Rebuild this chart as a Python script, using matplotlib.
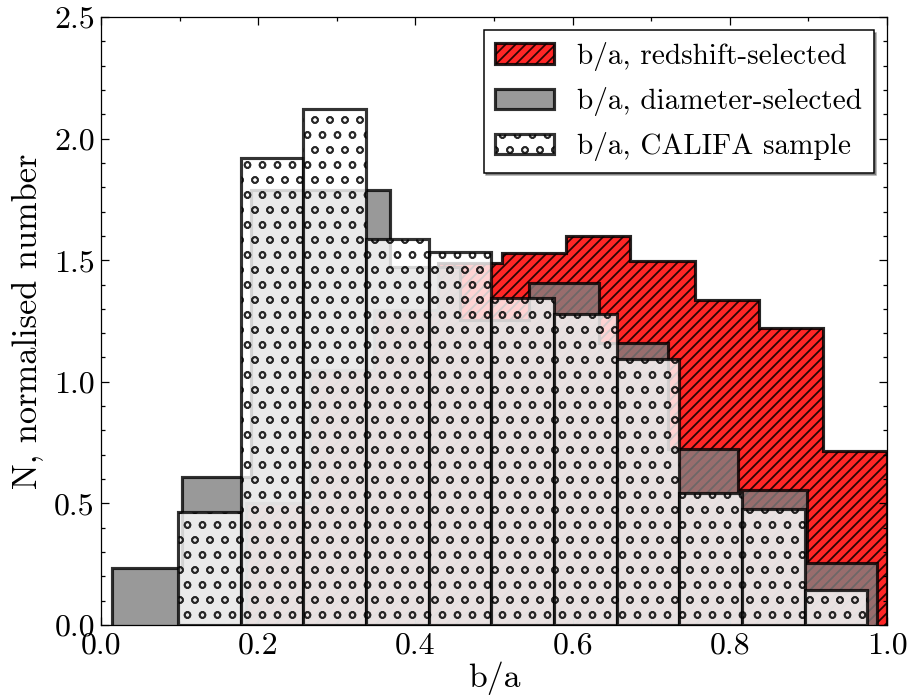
import numpy as np
import matplotlib
matplotlib.use("Agg")
import matplotlib.pyplot as plt
from matplotlib.ticker import MultipleLocator, FormatStrFormatter

# ---- histogram data (normalised counts per bin) ----
redshift_range = (0.184, 1.0)
redshift_counts = [0.502, 1.049, 1.295, 1.487, 1.528, 1.601, 1.498, 1.336, 1.220, 0.716]

diameter_range = (0.014, 0.987)
diameter_counts = [0.234, 0.609, 1.789, 1.789, 1.473, 1.254, 1.406, 1.160, 0.724, 0.555, 0.255]

califa_range = (0.098, 0.975)
califa_counts = [0.466, 1.919, 2.122, 1.586, 1.535, 1.343, 1.278, 1.092, 0.544, 0.476, 0.142]

labels = ["b/a, redshift-selected", "b/a, diameter-selected", "b/a, CALIFA sample"]

redshift_edges = np.linspace(*redshift_range, len(redshift_counts) + 1)
diameter_edges = np.linspace(*diameter_range, len(diameter_counts) + 1)
califa_edges = np.linspace(*califa_range, len(califa_counts) + 1)

plt.rcParams.update({
    "font.family": "serif",
    "font.serif": ["cmr10", "DejaVu Serif"],
    "axes.formatter.use_mathtext": True,
    "axes.unicode_minus": False,
    "hatch.linewidth": 1.4,
    "xtick.direction": "in",
    "ytick.direction": "in",
    "xtick.top": True,
    "ytick.right": True,
})

DPI = 90
fig = plt.figure(figsize=(907 / DPI, 695 / DPI), dpi=DPI)
ax = fig.add_axes([0.1114, 0.1007, 0.8666, 0.8748])

lw = 2.5
ax.stairs(redshift_counts, redshift_edges, fill=True, baseline=0,
          facecolor="red", edgecolor="black", hatch="///", alpha=0.85,
          linewidth=lw, label=labels[0], zorder=1)
ax.stairs(diameter_counts, diameter_edges, fill=True, baseline=0,
          facecolor="gray", edgecolor="black", alpha=0.8,
          linewidth=lw, label=labels[1], zorder=2)
ax.bar(califa_edges[:-1], califa_counts, width=np.diff(califa_edges),
       align="edge", facecolor="white", edgecolor="black", hatch="o",
       alpha=0.8, linewidth=lw, label=labels[2], zorder=3)

ax.set_xlim(0, 1)
ax.set_ylim(0, 2.5)
ax.xaxis.set_major_locator(MultipleLocator(0.2))
ax.xaxis.set_minor_locator(MultipleLocator(0.1))
ax.yaxis.set_major_locator(MultipleLocator(0.5))
ax.yaxis.set_minor_locator(MultipleLocator(0.1))
ax.xaxis.set_major_formatter(FormatStrFormatter("%.1f"))
ax.yaxis.set_major_formatter(FormatStrFormatter("%.1f"))
ax.tick_params(which="major", length=6.5, width=1.0, labelsize=25.5, pad=5)
ax.tick_params(which="minor", length=3.5, width=1.0)
ax.tick_params(which="both", top=True, right=True)
for s in ax.spines.values():
    s.set_linewidth(1.0)

ax.set_xlabel("b/a", fontsize=27, labelpad=2)
ax.set_ylabel("N, normalised number", fontsize=27.5, labelpad=8)

leg = ax.legend(loc="upper right", fontsize=23.4, fancybox=False, shadow=True,
                framealpha=1, edgecolor="black", labelspacing=0.55,
                borderaxespad=0.45, handlelength=2.0)
leg.get_frame().set_linewidth(1.2)

fig.savefig("out.png", dpi=DPI)
